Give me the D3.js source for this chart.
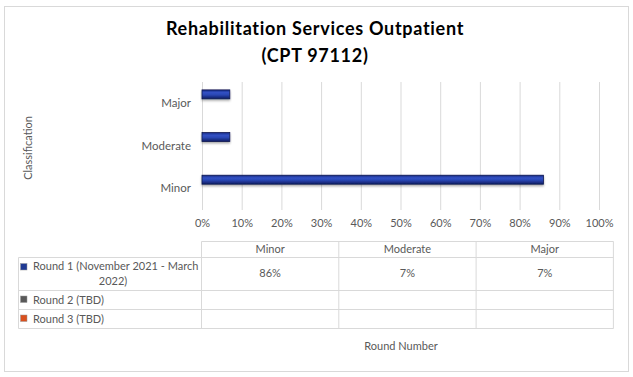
<!DOCTYPE html>
<html>
<head>
<meta charset="utf-8">
<script src="https://cdn.jsdelivr.net/npm/d3@7"></script>
<style>
  body { margin: 0; background: #fff; }
  text { font-family: Lato, "Open Sans", sans-serif; }
</style>
</head>
<body>
<div id="chart"></div>
<script>
// data
const categories = ['Minor', 'Moderate', 'Major'];
const rounds = ['Round 1 (November 2021 - March 2022)', 'Round 2 (TBD)', 'Round 3 (TBD)'];
const round1 = [0.86, 0.07, 0.07];
const round2 = [null, null, null];
const round3 = [null, null, null];
const seriesValues = [round1, round2, round3];
const xTicks = [0, 0.1, 0.2, 0.3, 0.4, 0.5, 0.6, 0.7, 0.8, 0.9, 1];
const keyColors = ['#1f3a93', '#595959', '#d9501e'];

const width = 633;
const height = 377;
const textColor = '#595959';
const gridColor = '#d9d9d9';

const svg = d3
    .select('#chart')
    .append('svg')
    .attr('width', width)
    .attr('height', height)
    .attr('viewBox', [0, 0, width, height]);

// bar gradient (bevel look)
const defs = svg.append('defs');
const grad = defs.append('linearGradient').attr('id', 'barGrad').attr('x1', 0).attr('y1', 0).attr('x2', 0).attr('y2', 1);
[
    ['0%', '#1a2c85'],
    ['30%', '#3151c4'],
    ['55%', '#2a47b4'],
    ['100%', '#101d62']
].forEach(([o, c]) => grad.append('stop').attr('offset', o).attr('stop-color', c));

const shadow = defs.append('filter').attr('id', 'shadow').attr('x', '-5%').attr('y', '-50%').attr('width', '110%').attr('height', '220%');
shadow.append('feDropShadow').attr('dx', 0).attr('dy', 1.5).attr('stdDeviation', 1.2).attr('flood-color', '#000').attr('flood-opacity', 0.35);

// outer frame
svg.append('rect')
    .attr('x', 4.5)
    .attr('y', 6.5)
    .attr('width', 624)
    .attr('height', 365)
    .attr('fill', '#fff')
    .attr('stroke', gridColor);

// title
svg.append('text')
    .attr('x', 315)
    .attr('text-anchor', 'middle')
    .attr('font-size', 18)
    .attr('font-weight', 'bold')
    .attr('letter-spacing', 0.7)
    .attr('fill', '#000')
    .call((t) => {
        t.append('tspan').attr('x', 315).attr('y', 35).text('Rehabilitation Services Outpatient');
        t.append('tspan').attr('x', 315).attr('y', 62).text('(CPT 97112)');
    });

// scales
const plot = { left: 202, right: 599, top: 82, bottom: 210 };

const x = d3.scaleLinear().domain([0, 1]).range([plot.left, plot.right]);

const y = d3
    .scaleBand()
    .domain(categories.slice().reverse())
    .range([plot.top, plot.bottom])
    .paddingInner(0.37)
    .paddingOuter(0.185);

const yInner = d3.scaleBand().domain(rounds).range([0, y.bandwidth()]);

// gridlines
svg.append('g')
    .selectAll('line')
    .data(xTicks)
    .join('line')
    .attr('x1', (d) => x(d) + 0.5)
    .attr('x2', (d) => x(d) + 0.5)
    .attr('y1', plot.top)
    .attr('y2', plot.bottom)
    .attr('stroke', gridColor);

// x axis
const xAxis = svg
    .append('g')
    .attr('transform', `translate(0,${plot.bottom})`)
    .call(d3.axisBottom(x).tickValues(xTicks).tickFormat(d3.format('.0%')).tickSize(0).tickPadding(9));
xAxis.select('.domain').remove();
xAxis.selectAll('text').attr('fill', textColor).attr('font-size', 11).style('font-family', 'Lato, sans-serif');

// y axis
const yAxis = svg
    .append('g')
    .attr('transform', `translate(${plot.left},0)`)
    .call(d3.axisLeft(y).tickSize(0).tickPadding(11));
yAxis.select('.domain').remove();
yAxis.selectAll('text').attr('fill', textColor).attr('font-size', 11.5).style('font-family', 'Lato, sans-serif');

// y axis title
svg.append('text')
    .attr('transform', 'translate(32,148) rotate(-90)')
    .attr('text-anchor', 'middle')
    .attr('fill', textColor)
    .attr('font-size', 11)
    .text('Classification');

// bars
const barData = [];
rounds.forEach((r, si) => {
    categories.forEach((c, ci) => {
        const v = seriesValues[si][ci];
        if (v != null) barData.push({ round: r, category: c, value: v });
    });
});

svg.append('g')
    .selectAll('rect')
    .data(barData)
    .join('rect')
    .attr('x', x(0))
    .attr('y', (d) => y(d.category) + yInner(d.round))
    .attr('width', (d) => x(d.value) - x(0))
    .attr('height', yInner.bandwidth())
    .attr('fill', 'url(#barGrad)')
    .attr('stroke', '#0d1850')
    .attr('stroke-width', 0.8)
    .attr('filter', 'url(#shadow)');

// data table
const tableCols = categories.map((c, i) => ({
    name: c,
    x0: 201.5 + i * 137.3,
    x1: 201.5 + (i + 1) * 137.3
}));
const rowEdges = [241.5, 257.5, 290.5, 309.5, 328.5];
const table = svg.append('g').attr('stroke', gridColor).attr('fill', 'none');

// header row lines (only over value columns)
table.append('line').attr('x1', 201.5).attr('x2', 613.5).attr('y1', rowEdges[0]).attr('y2', rowEdges[0]);
table.selectAll('.hline')
    .data(rowEdges.slice(1))
    .join('line')
    .attr('x1', 18.5)
    .attr('x2', 613.5)
    .attr('y1', (d) => d)
    .attr('y2', (d) => d);
table.append('line').attr('x1', 18.5).attr('x2', 18.5).attr('y1', rowEdges[1]).attr('y2', rowEdges[4]);
table.selectAll('.vline')
    .data([201.5, ...tableCols.map((c) => c.x1)])
    .join('line')
    .attr('x1', (d) => d)
    .attr('x2', (d) => d)
    .attr('y1', rowEdges[0])
    .attr('y2', rowEdges[4]);

// header text
svg.append('g')
    .selectAll('text')
    .data(tableCols)
    .join('text')
    .attr('x', (d) => (d.x0 + d.x1) / 2)
    .attr('y', 253)
    .attr('text-anchor', 'middle')
    .attr('fill', textColor)
    .attr('font-size', 11)
    .text((d) => d.name);

// row labels with legend keys
const rowMid = [273.5, 299.5, 318.5];
const labels = svg.append('g').attr('fill', textColor).attr('font-size', 11);
labels.selectAll('rect')
    .data(rounds)
    .join('rect')
    .attr('x', 20.5)
    .attr('y', (d, i) => (i === 0 ? 263.5 : rowMid[i] - 3.5))
    .attr('width', 6.5)
    .attr('height', 6.5)
    .attr('fill', (d, i) => keyColors[i])
    .attr('stroke', '#999')
    .attr('stroke-width', 0.5);

labels.append('text').attr('x', 33).attr('y', 270).text('Round 1 (November 2021 - March');
labels.append('text').attr('x', 113).attr('y', 285).attr('text-anchor', 'middle').text('2022)');
labels.selectAll('.rl')
    .data(rounds.slice(1))
    .join('text')
    .attr('x', 33)
    .attr('y', (d, i) => rowMid[i + 1] + 4)
    .text((d) => d);

// values
const cellData = [];
seriesValues.forEach((vals, si) => {
    vals.forEach((v, ci) => {
        if (v != null) cellData.push({ si, ci, v });
    });
});
svg.append('g')
    .selectAll('text')
    .data(cellData)
    .join('text')
    .attr('x', (d) => (tableCols[d.ci].x0 + tableCols[d.ci].x1) / 2)
    .attr('y', (d) => rowMid[d.si] + 3)
    .attr('text-anchor', 'middle')
    .attr('fill', textColor)
    .attr('font-size', 11)
    .text((d) => d3.format('.0%')(d.v));

// x axis title under table
svg.append('text')
    .attr('x', 401)
    .attr('y', 350)
    .attr('text-anchor', 'middle')
    .attr('fill', textColor)
    .attr('font-size', 11)
    .text('Round Number');
</script>
</body>
</html>
